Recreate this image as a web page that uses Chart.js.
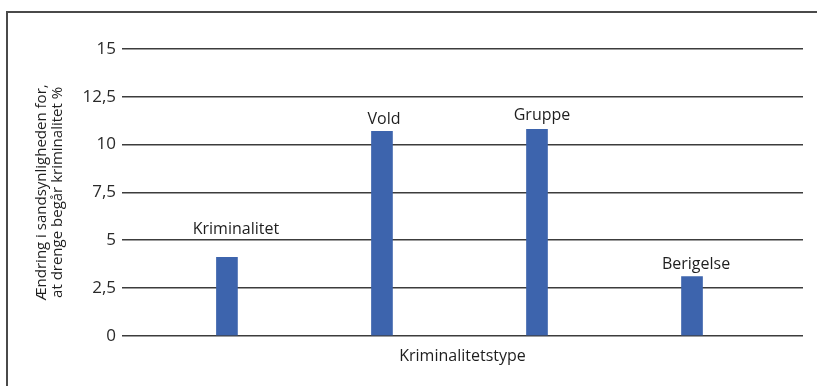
<!DOCTYPE html>
<html>
<head>
<meta charset="utf-8">
<script src="https://cdn.jsdelivr.net/npm/chart.js@4/dist/chart.umd.min.js"></script>
<style>
  html, body { margin: 0; padding: 0; background: #ffffff; }
  #wrap { position: relative; width: 817px; height: 386px; }
</style>
</head>
<body>
<div id="wrap"><canvas id="c" width="817" height="386"></canvas></div>
<script>
// Crime types and the change in probability (%) that boys commit crime
const categories = ['Kriminalitet', 'Vold', 'Gruppe', 'Berigelse'];
const values = [4.1, 10.7, 10.8, 3.1];
const yTicks = [0, 2.5, 5, 7.5, 10, 12.5, 15];
const yTitle = ['Ændring i sandsynligheden for,', 'at drenge begår kriminalitet %'];
const xTitle = 'Kriminalitetstype';

// label placement relative to the top of each bar, in pixels
const labelShift = [[9, -28], [2, -12], [5, -14], [4, -12]];

const FONT = '"Open Sans", "DejaVu Sans", sans-serif';

const framePlugin = {
  id: 'frame',
  beforeDraw(chart) {
    const ctx = chart.ctx;
    ctx.save();
    ctx.strokeStyle = '#4a4a4a';
    ctx.lineWidth = 2;
    ctx.beginPath();
    ctx.moveTo(817, 12);
    ctx.lineTo(7, 12);
    ctx.lineTo(7, 386);
    ctx.stroke();
    ctx.restore();
  }
};

const barLabels = {
  id: 'barLabels',
  afterDatasetsDraw(chart) {
    const ctx = chart.ctx;
    const meta = chart.getDatasetMeta(0);
    ctx.save();
    ctx.font = '16px ' + FONT;
    ctx.fillStyle = '#1e1e1e';
    ctx.textAlign = 'center';
    ctx.textBaseline = 'middle';
    meta.data.forEach((bar, i) => {
      const s = labelShift[i];
      ctx.fillText(categories[i], bar.x + s[0], bar.y + s[1]);
    });
    ctx.restore();
  }
};

new Chart(document.getElementById('c'), {
  type: 'bar',
  data: {
    datasets: [{
      data: values.map((v, i) => ({ x: i + 1, y: v })),
      backgroundColor: '#3d64ad',
      borderWidth: 0,
      barThickness: 21
    }]
  },
  options: {
    responsive: false,
    animation: false,
    devicePixelRatio: 1,
    layout: { padding: { left: 33, right: 14, top: 49, bottom: 20 } },
    plugins: { legend: { display: false }, tooltip: { enabled: false } },
    scales: {
      x: {
        type: 'linear',
        offset: false,
        min: 0.323,
        max: 4.716,
        grid: { display: false, drawTicks: false },
        border: { display: false },
        ticks: { display: false },
        title: {
          display: true,
          text: xTitle,
          color: '#1e1e1e',
          font: { family: FONT, size: 16 },
          padding: { top: 11, bottom: 0 }
        }
      },
      y: {
        min: 0,
        max: 15,
        afterBuildTicks(scale) {
          scale.ticks = yTicks.map(v => ({ value: v }));
        },
        afterFit(scale) { scale.width = 89; },
        grid: { color: '#3c3c3c', lineWidth: 1.5, drawTicks: false },
        border: { display: false },
        ticks: {
          padding: 6,
          color: '#2a2a2a',
          font: { family: FONT, size: 17 },
          callback: v => String(v).replace('.', ',')
        },
        title: {
          display: true,
          text: yTitle,
          color: '#1e1e1e',
          font: { family: FONT, size: 15, lineHeight: 1.1 },
          padding: { top: 0, bottom: 0 }
        }
      }
    }
  },
  plugins: [framePlugin, barLabels]
});
</script>
</body>
</html>
